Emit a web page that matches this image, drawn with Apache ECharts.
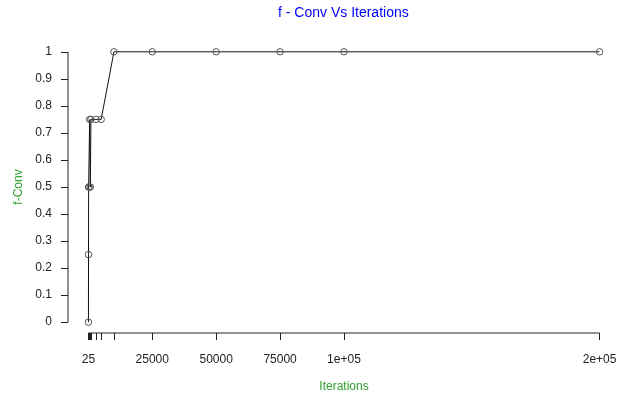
<!DOCTYPE html>
<html><head><meta charset="utf-8">
<script src="https://cdn.jsdelivr.net/npm/echarts@6/dist/echarts.min.js"></script>
<style>html,body{margin:0;padding:0;background:#fff}#c{width:634px;height:396px}</style>
</head><body><div id="c"></div>
<script>
const iterations = [25, 50, 100, 250, 500, 750, 1000, 3000, 5000, 10000, 25000, 50000, 75000, 100000, 200000];
const fConv      = [0, 0.25, 0.5, 0.5, 0.75, 0.5, 0.75, 0.75, 0.75, 1, 1, 1, 1, 1, 1];
const xTickLabels = [25, 25000, 50000, 75000, 100000, 200000];
const yTicks = [0, 0.1, 0.2, 0.3, 0.4, 0.5, 0.6, 0.7, 0.8, 0.9, 1];

const xMin = 25 - 0.04 * (200000 - 25), xMax = 200000 + 0.04 * (200000 - 25);
const yMin = -0.04, yMax = 1.04;
function fmtXLabel(v) {
  if (v >= 100000) { return Math.round(v / 100000) + 'e+05'; }
  return String(v);
}
const txt = '#222';
const font = 'Liberation Sans';
const chart = echarts.init(document.getElementById('c'));
chart.setOption({
  animation: false,
  title: { text: 'f - Conv Vs Iterations', left: 273, top: 1,
    textStyle: { color: '#0000ff', fontSize: 14, fontWeight: 'normal', fontFamily: font } },
  grid: { left: 68, right: 14, top: 41, bottom: 63, containLabel: false, outerBoundsMode: 'none' },
  xAxis: { type: 'value', min: xMin, max: xMax,
    name: 'Iterations', nameLocation: 'middle', nameGap: 48,
    nameTextStyle: { color: '#2e9e2e', fontSize: 12, fontFamily: font },
    axisLine: { show: false, onZero: false }, splitLine: { show: false },
    axisTick: { show: true, length: 7, customValues: iterations, lineStyle: { color: '#222' } },
    axisLabel: { customValues: xTickLabels, formatter: fmtXLabel, margin: 21, color: txt, fontSize: 12, fontFamily: font } },
  yAxis: { type: 'value', min: yMin, max: yMax,
    name: 'f-Conv', nameLocation: 'middle', nameGap: 42, nameRotate: 90,
    nameTextStyle: { color: '#2e9e2e', fontSize: 12, fontFamily: font },
    axisLine: { show: false, onZero: false }, splitLine: { show: false },
    axisTick: { show: true, length: 7, customValues: yTicks, lineStyle: { color: '#222' } },
    axisLabel: { customValues: yTicks, formatter: v => String(Math.round(v * 10) / 10), margin: 16, color: txt, fontSize: 12, fontFamily: font } },
  series: [
    { type: 'line', data: iterations.map((x, i) => [x, fConv[i]]),
      symbol: 'circle', symbolSize: 6.5, showAllSymbol: true,
      lineStyle: { color: '#111', width: 1 },
      itemStyle: { color: 'rgba(255,255,255,0)', borderColor: '#555', borderWidth: 1 },
      emphasis: { disabled: true }, clip: false },
    { type: 'line', silent: true, symbol: 'none', clip: false,
      data: [[iterations[0], yMin], [iterations[iterations.length - 1], yMin]],
      lineStyle: { color: '#222', width: 1 } },
    { type: 'line', silent: true, symbol: 'none', clip: false,
      data: [[xMin, yTicks[0]], [xMin, yTicks[yTicks.length - 1]]],
      lineStyle: { color: '#222', width: 1 } }
  ]
});
</script></body></html>
